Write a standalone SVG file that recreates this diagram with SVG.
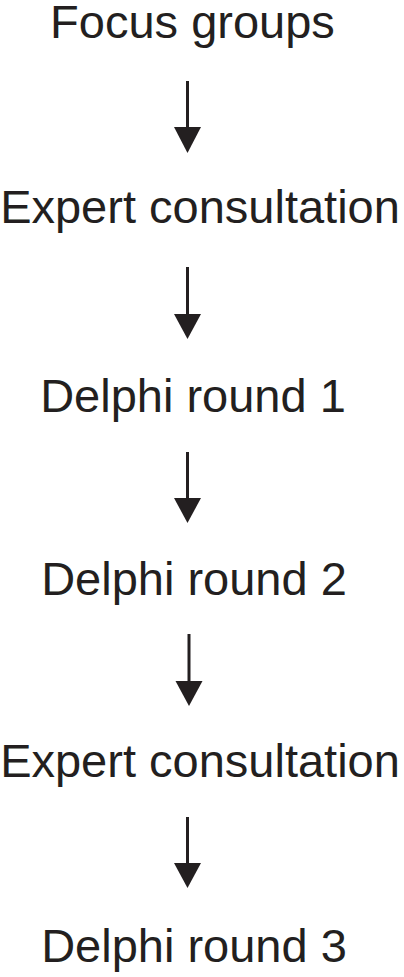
<svg xmlns="http://www.w3.org/2000/svg" width="404" height="977" viewBox="0 0 404 977">
<defs>
<style>
.t{font-family:"Liberation Sans",Arial,sans-serif;font-size:47px;fill:#231f20;text-anchor:middle}
.s{stroke:#231f20;stroke-width:3;fill:none}
.h{fill:#231f20}
</style>
</defs>
<rect width="404" height="977" fill="#fff"/>
<g id="n1"><text class="t" x="192.5" y="38">Focus groups</text></g>
<g id="n2"><text class="t" x="200" y="223">Expert consultation</text></g>
<g id="n3"><text class="t" x="193" y="412">Delphi round 1</text></g>
<g id="n4"><text class="t" x="194" y="595">Delphi round 2</text></g>
<g id="n5"><text class="t" x="200" y="777">Expert consultation</text></g>
<g id="n6"><text class="t" x="194" y="962">Delphi round 3</text></g>
<g id="connectors">
<line class="s" x1="187.5" y1="81" x2="187.5" y2="130"/>
<polygon class="h" points="174,127 201,127 187.5,153"/>
<line class="s" x1="187.5" y1="267" x2="187.5" y2="317"/>
<polygon class="h" points="174,314 201,314 187.5,339"/>
<line class="s" x1="187.5" y1="452" x2="187.5" y2="500"/>
<polygon class="h" points="174,498 201,498 187.5,523"/>
<line class="s" x1="189" y1="634" x2="189" y2="683"/>
<polygon class="h" points="175.5,681 202.5,681 189,706"/>
<line class="s" x1="187.5" y1="817" x2="187.5" y2="866"/>
<polygon class="h" points="174,863 201,863 187.5,888"/>
</g>
</svg>
